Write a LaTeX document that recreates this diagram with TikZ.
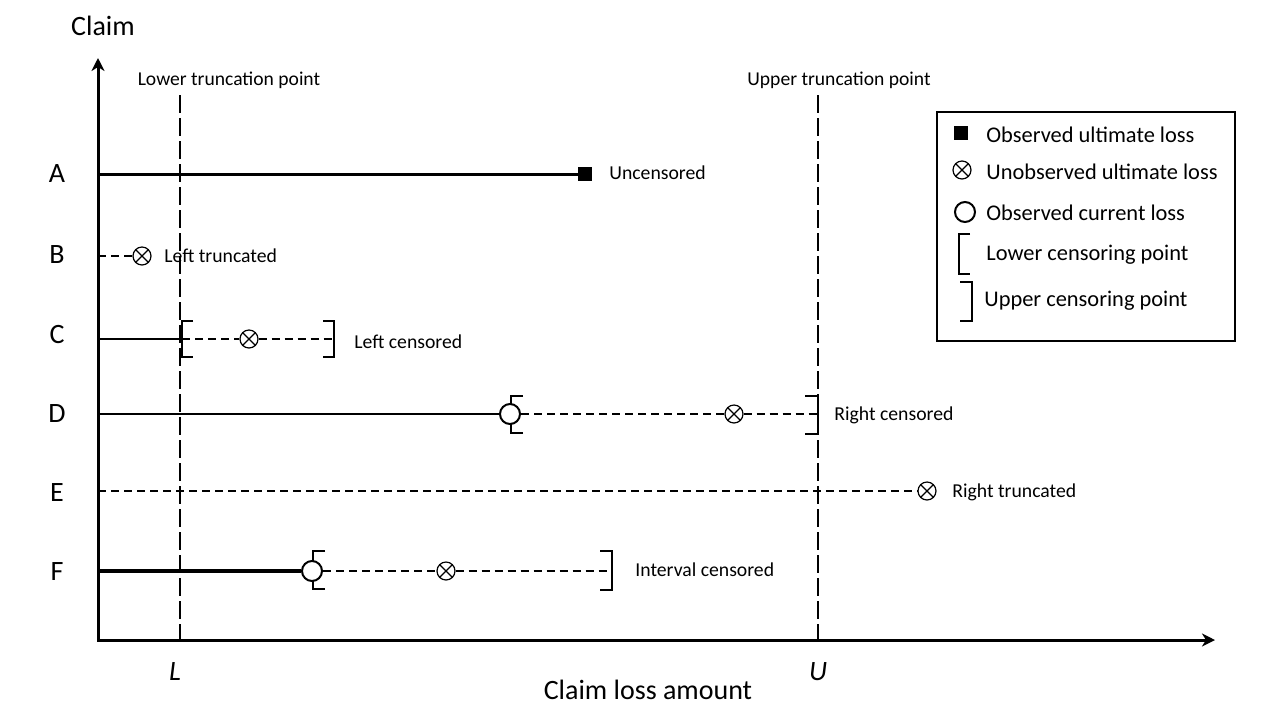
\documentclass[tikz,border=0pt]{standalone}
\usepackage{fontspec}
\setmainfont{Carlito}
\usetikzlibrary{arrows.meta}
\tikzset{
  unobs/.style={circle, draw, line width=0.6pt, inner sep=0pt, minimum size=9pt,
    path picture={\draw[line width=0.6pt] (path picture bounding box.north west) -- (path picture bounding box.south east)
      (path picture bounding box.north east) -- (path picture bounding box.south west);}},
  obscur/.style={circle, draw, line width=1pt, fill=white, inner sep=0pt, minimum size=10pt},
  obsult/.style={rectangle, fill=black, inner sep=0pt, minimum size=7pt},
  rowdash/.style={line width=0.9pt, dash pattern=on 4pt off 2.5pt},
  truncline/.style={line width=0.9pt, dash pattern=on 9pt off 2.5pt},
  brk/.style={line width=1.1pt},
  rowtext/.style={anchor=west, inner sep=0pt, font=\fontsize{9.85}{11}\selectfont},
  keytext/.style={anchor=west, inner sep=0pt, font=\fontsize{11.2}{13}\selectfont},
  axtext/.style={font=\fontsize{14}{16}\selectfont}
}
\begin{document}
\begin{tikzpicture}[x=0.5pt, y=-0.5pt, every node/.style={font=\fontsize{9.85}{11}\selectfont}]
      \useasboundingbox (0,0) rectangle (1276,725);
      % axes
      \draw[line width=1.5pt, -{Stealth[length=6.5pt,width=6.5pt,inset=2pt]}] (98,640) -- (98,58);
      \draw[line width=1.5pt, -{Stealth[length=6.5pt,width=6.5pt,inset=2pt]}] (97,640) -- (1215,640);
      \node[axtext] (ylab) at (103,26) {Claim};
      \node[axtext] (xlab) at (648,690) {Claim loss amount};
      \node[axtext, font=\fontsize{14}{16}\selectfont\itshape] (lpt) at (175,672) {L};
      \node[axtext, font=\fontsize{14}{16}\selectfont\itshape] (upt) at (818,672) {U};
      % truncation points
      \draw[truncline] (180,95) -- (180,640);
      \draw[truncline] (818,95) -- (818,640);
      \node[font=\fontsize{9.8}{11}\selectfont] (lowtr) at (229,80) {Lower truncation point};
      \node[font=\fontsize{9.8}{11}\selectfont] (uptr) at (839,80) {Upper truncation point};
      % claim names
      \foreach \lab/\yy in {A/174, B/255, C/335, D/414, E/493, F/572}
        \node[axtext] (row\lab) at (57,\yy) {\lab};
      % A: uncensored
      \node[obsult] (a1) at (585,174) {};
      \draw[line width=1.5pt] (98,174) -- (a1);
      \node[rowtext] (ta) at (609,173) {Uncensored};
      % B: left truncated
      \node[unobs] (b1) at (142,256) {};
      \draw[rowdash] (98,256) -- (b1);
      \node[rowtext] (tb) at (164,256) {Left truncated};
      % C: left censored
      \draw[line width=1.1pt] (98,339) -- (182,339);
      \draw[brk] (193,321) -- (182,321) -- (182,357) -- (193,357);
      \node[unobs] (c1) at (249,339) {};
      \draw[rowdash] (182,339) -- (c1) -- (334,339);
      \draw[brk] (323,321) -- (334,321) -- (334,357) -- (323,357);
      \node[rowtext] (tc) at (354,342) {Left censored};
      % D: right censored
      \node[obscur] (d1) at (510,414) {};
      \draw[line width=0.8pt] (98,414) -- (d1);
      \draw[brk] (523,396) -- (511,396) -- (511,405);
      \draw[brk] (523,433) -- (511,433) -- (511,424);
      \node[unobs] (d2) at (734,414) {};
      \draw[rowdash] (d1) -- (d2) -- (818,414);
      \draw[brk] (805,396) -- (818,396) -- (818,434) -- (805,434);
      \node[rowtext] (td) at (834,415) {Right censored};
      % E: right truncated
      \node[unobs] (e1) at (927,491) {};
      \draw[rowdash] (98,491) -- (e1);
      \node[rowtext] (te) at (952,492) {Right truncated};
      % F: interval censored
      \node[obscur] (f1) at (312,571) {};
      \draw[line width=1.8pt] (98,571) -- (f1);
      \draw[brk] (325,551) -- (313,551) -- (313,561);
      \draw[brk] (325,589) -- (313,589) -- (313,581);
      \node[unobs] (f2) at (446,571) {};
      \draw[rowdash] (f1) -- (f2) -- (612,571);
      \draw[brk] (600,551) -- (612,551) -- (612,590) -- (600,590);
      \node[rowtext] (tf) at (635,570) {Interval censored};
      % legend
      \draw[line width=0.8pt] (937,112) rectangle (1235,341);
      \node[obsult] (k1) at (961,133) {};
      \node[keytext] (l1) at (986,135) {Observed ultimate loss};
      \node[unobs] (k2) at (962,170) {};
      \node[keytext] (l2) at (986,172) {Unobserved ultimate loss};
      \node[obscur] (k3) at (965,212) {};
      \node[keytext] (l3) at (986,213) {Observed current loss};
      \draw[brk] (970,234) -- (959,234) -- (959,274) -- (970,274);
      \node[keytext] (l4) at (986,255) {Lower censoring point};
      \draw[brk] (960,282) -- (972,282) -- (972,321) -- (960,321);
      \node[keytext] (l5) at (984,301) {Upper censoring point};
    \end{tikzpicture}
\end{document}
